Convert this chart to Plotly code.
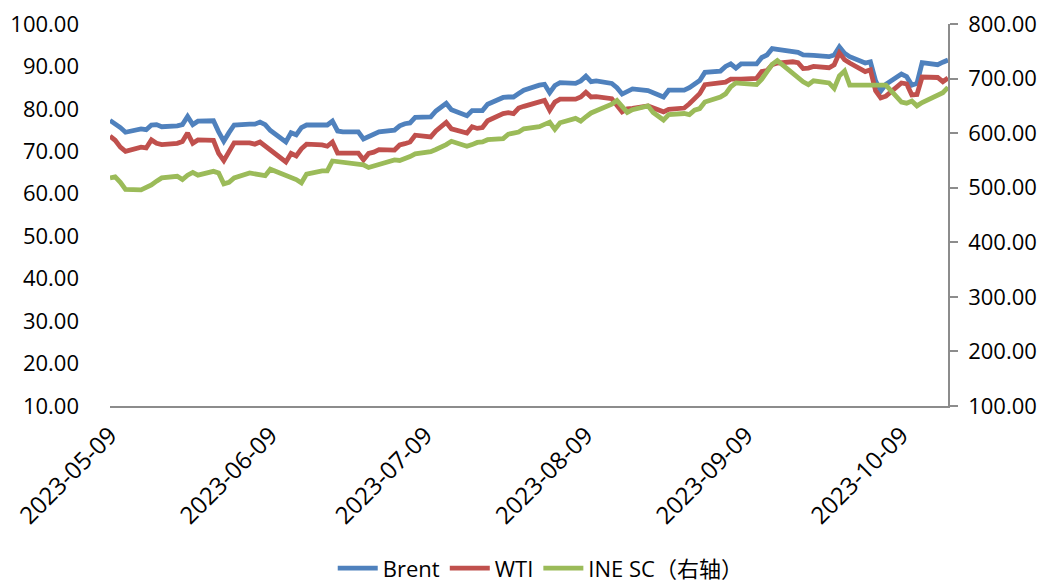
import plotly.graph_objects as go

dates = [
    "2023-05-09","2023-05-10","2023-05-11","2023-05-12","2023-05-15","2023-05-16","2023-05-17","2023-05-18","2023-05-19",
    "2023-05-22","2023-05-23","2023-05-24","2023-05-25","2023-05-26","2023-05-29","2023-05-30","2023-05-31",
    "2023-06-01","2023-06-02","2023-06-05","2023-06-06","2023-06-07","2023-06-08","2023-06-09",
    "2023-06-12","2023-06-13","2023-06-14","2023-06-15","2023-06-16","2023-06-19","2023-06-20","2023-06-21","2023-06-22","2023-06-23",
    "2023-06-26","2023-06-27","2023-06-28","2023-06-29","2023-06-30",
    "2023-07-03","2023-07-04","2023-07-05","2023-07-06","2023-07-07","2023-07-10","2023-07-11","2023-07-12","2023-07-13","2023-07-14",
    "2023-07-17","2023-07-18","2023-07-19","2023-07-20","2023-07-21","2023-07-24","2023-07-25","2023-07-26","2023-07-27","2023-07-28",
    "2023-07-31","2023-08-01","2023-08-02","2023-08-03","2023-08-04","2023-08-07","2023-08-08","2023-08-09","2023-08-10","2023-08-11",
    "2023-08-14","2023-08-15","2023-08-16","2023-08-17","2023-08-18","2023-08-21","2023-08-22","2023-08-23","2023-08-24","2023-08-25",
    "2023-08-28","2023-08-29","2023-08-30","2023-08-31","2023-09-01","2023-09-04","2023-09-05","2023-09-06","2023-09-07","2023-09-08",
    "2023-09-11","2023-09-12","2023-09-13","2023-09-14","2023-09-15","2023-09-18","2023-09-19","2023-09-20","2023-09-21","2023-09-22",
    "2023-09-25","2023-09-26","2023-09-27","2023-09-28","2023-09-29","2023-10-02","2023-10-03","2023-10-04","2023-10-05","2023-10-06",
    "2023-10-09","2023-10-10","2023-10-11","2023-10-12","2023-10-13","2023-10-16","2023-10-17","2023-10-18",
]

brent = [
    77.3, 76.6, 75.6, 74.5, 75.3, 75.1, 76.2, 76.3, 75.8,
    76.0, 76.3, 78.2, 76.3, 77.1, 77.2, 74.6, 72.4,
    74.4, 76.2, 76.4, 76.4, 76.9, 76.3, 74.9,
    72.2, 74.4, 73.9, 75.6, 76.2, 76.2, 76.2, 77.1, 74.8, 74.6,
    74.6, 72.9, 73.5, 74.2, 74.6,
    75.0, 76.0, 76.5, 76.7, 78.0, 78.1, 79.5, 80.3, 81.3, 79.8,
    78.4, 79.6, 79.5, 79.6, 81.1, 82.7, 82.8, 82.8, 83.6, 84.4,
    85.6, 85.8, 83.8, 85.5, 86.2, 86.0, 86.6, 87.7, 86.4, 86.6,
    86.0, 85.0, 83.5, 84.0, 84.7, 84.3, 83.8, 83.3, 82.8, 84.4,
    84.4, 85.0, 85.8, 86.7, 88.6, 88.9, 90.0, 90.6, 89.6, 90.6,
    90.6, 92.1, 92.7, 94.2, 94.0, 93.5, 93.3, 92.7, 92.7, 92.6,
    92.3, 92.7, 94.6, 93.1, 92.3, 90.8, 91.1, 86.6, 84.2, 85.8,
    88.2, 87.6, 85.6, 86.0, 90.9, 90.4, 91.0, 91.5,
]

wti = [
    73.6, 72.6, 71.0, 70.0, 71.0, 70.8, 72.7, 71.9, 71.6,
    71.9, 72.3, 74.3, 71.9, 72.7, 72.6, 69.5, 67.8,
    70.2, 72.0, 72.0, 71.7, 72.2, 71.3, 70.2,
    67.5, 69.5, 68.9, 70.6, 71.7, 71.5, 71.2, 72.2, 69.6, 69.6,
    69.6, 68.0, 69.5, 69.8, 70.4,
    70.3, 71.5, 71.8, 72.2, 73.8, 73.4, 74.8, 75.7, 76.8, 75.3,
    74.3, 75.8, 75.4, 75.6, 77.2, 78.9, 79.1, 78.9, 80.2, 80.6,
    81.8, 82.0, 79.7, 81.6, 82.3, 82.3, 82.8, 83.9, 82.8, 82.9,
    82.4, 80.9, 79.3, 80.0, 80.1, 80.7, 80.3, 79.8, 79.3, 79.9,
    80.2, 81.2, 82.3, 83.6, 85.7, 86.2, 86.3, 87.0, 86.9, 87.0,
    87.2, 88.8, 89.0, 90.4, 90.8, 91.1, 90.9, 89.5, 89.6, 90.0,
    89.7, 90.4, 93.2, 91.6, 90.8, 88.8, 89.2, 84.3, 82.6, 83.0,
    86.1, 85.9, 83.3, 83.4, 87.5, 87.4, 86.4, 87.3,
]

ine_sc = [
    518, 520, 510, 497, 496, 500, 505, 512, 518,
    521, 515, 523, 528, 523, 530, 527, 507,
    510, 518, 527, 525, 523, 522, 534,
    522, 520, 515, 509, 525, 531, 531, 549, 548, 547,
    545, 542, 537, 540, 544,
    551, 550, 553, 557, 562, 566, 570, 574, 579, 585,
    576, 579, 583, 584, 588, 590, 598, 600, 602, 608,
    612, 616, 620, 607, 619, 627, 622, 630, 637, 641,
    653, 660, 648, 638, 643, 650, 638, 630, 624, 634,
    636, 634, 642, 645, 657, 666, 672, 685, 692, 691,
    689, 699, 712, 726, 733, 709, 700, 694, 689, 696,
    692, 682, 705, 714, 688, 688, 688, 688, 688, 688,
    657, 655, 659, 650, 656, 670, 674, 684,
]

tick_vals = ["2023-05-09", "2023-06-09", "2023-07-09", "2023-08-09", "2023-09-09", "2023-10-09"]
tick_text = ["2023-05-09", "2023-06-09", "2023-07-09", "2023-08-09", "2023-09-09", "2023-10-09"]

FONT = "Open Sans, Noto Sans CJK SC, sans-serif"

fig = go.Figure()
fig.add_trace(go.Scatter(x=dates, y=brent, name="Brent", mode="lines",
                         line=dict(color="#4F81BD", width=4.8)))
fig.add_trace(go.Scatter(x=dates, y=wti, name="WTI", mode="lines",
                         line=dict(color="#C0504D", width=4.8)))
fig.add_trace(go.Scatter(x=dates, y=ine_sc, name="INE SC（右轴）", mode="lines",
                         line=dict(color="#9BBB59", width=4.8), yaxis="y2"))

fig.update_layout(
    width=1050, height=584,
    margin=dict(l=102, r=110, t=16, b=186, autoexpand=False),
    paper_bgcolor="white", plot_bgcolor="white",
    font=dict(family=FONT, size=22, color="#000000"),
    showlegend=True,
    legend=dict(orientation="h", x=0.514, xanchor="center", y=-0.425, yanchor="middle",
                font=dict(family=FONT, size=22), itemwidth=40, traceorder="normal"),
    xaxis=dict(type="date", range=["2023-05-09", "2023-10-18"], automargin=False,
               tickvals=tick_vals, ticktext=tick_text, tickangle=-45,
               tickfont=dict(family=FONT, size=24),
               showgrid=False, zeroline=False, showline=True,
               linecolor="#8C8C8C", linewidth=1.5, ticks="", ticklabelstandoff=4),
    yaxis=dict(range=[10, 100], dtick=10, tick0=10, tickformat=".2f", automargin=False,
               showgrid=False, zeroline=False, showline=False, ticks="",
               ticklabelstandoff=30, ticklabeloverflow="allow"),
    yaxis2=dict(range=[100, 800], dtick=100, tick0=100, tickformat=".2f", automargin=False,
                overlaying="y", side="right", anchor="x",
                showgrid=False, zeroline=False, showline=True,
                linecolor="#8C8C8C", linewidth=1.5,
                ticks="outside", ticklen=8, tickcolor="#8C8C8C", tickwidth=1.5,
                ticklabelstandoff=6, ticklabeloverflow="allow"),
)

fig.write_html("out.html")
